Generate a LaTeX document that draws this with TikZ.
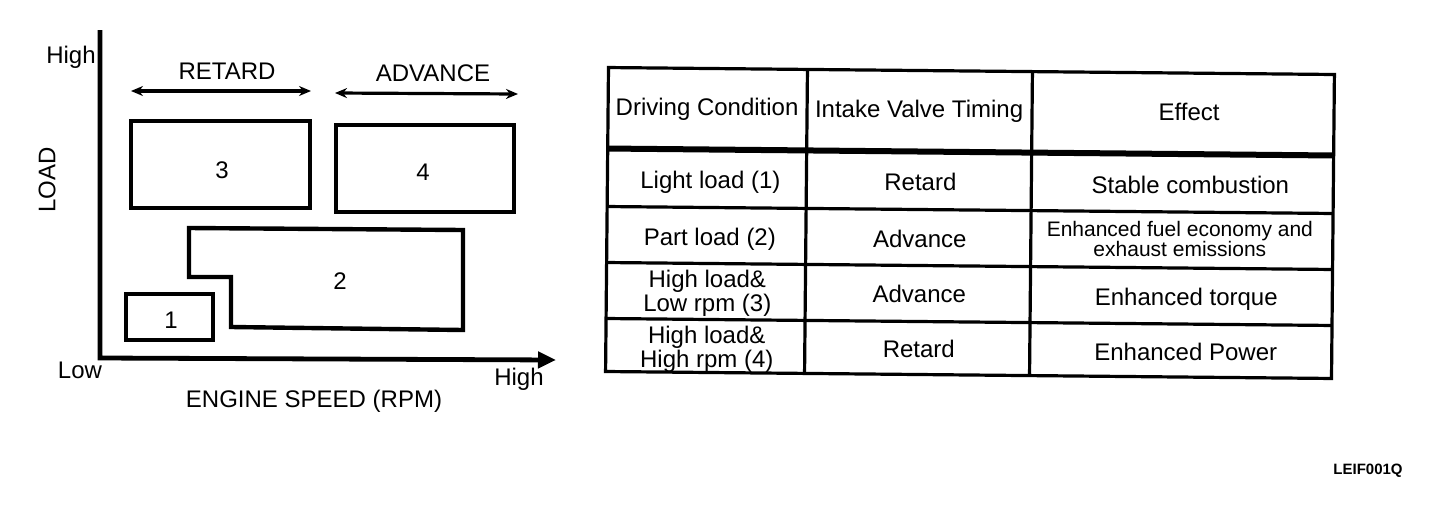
\documentclass[tikz,border=0pt]{standalone}
\usepackage{fontspec}
\setmainfont{Liberation Sans}
\usetikzlibrary{arrows.meta}
\tikzset{
  vvt diagram/.style={
    x=0.5pt, y=-0.5pt, line join=miter,
    every node/.style={font=\fontsize{12}{12}\selectfont,
      text=black, inner sep=0pt, outer sep=0pt}
  },
  vvt axis/.style={line width=2.4pt},
  vvt zone/.style={line width=2.2pt},
  vvt span/.style={line width=1.6pt,
    {Stealth[length=6pt,width=5pt]}-{Stealth[length=6pt,width=5pt]}},
  vvt rule/.style={line width=1.6pt},
  vvt cell/.style={text height=8.6pt, text depth=2.4pt},
  vvt pair/.style={align=center, font=\fontsize{12}{9.5}\selectfont},
  vvt small/.style={align=center, font=\fontsize{10.5}{10}\selectfont}
}

\begin{document}
\begin{tikzpicture}[vvt diagram]
    \useasboundingbox (0,0) rectangle (1440,504);
    % load / engine speed map
    \coordinate (loadTop) at (100,30);
    \coordinate (origin) at (100,358);
    \coordinate (speedEnd) at (556,360);
    \draw[vvt axis,-{Triangle[length=9pt,width=8pt]}]
      (loadTop) -- (origin) -- (speedEnd);
    \node (loadHigh) at (71,57) {High};
    \node (loadLow) at (80,370) {Low};
    \node (speedHigh) at (519,379) {High};
    \node[rotate=90] (loadLabel) at (47,180) {LOAD};
    \node (speedLabel) at (314,401) {ENGINE SPEED (RPM)};
    \node (retard) at (227,71) {RETARD};
    \node (advance) at (433,73) {ADVANCE};
    \coordinate (retardL) at (131,91);
    \coordinate (retardR) at (311,91);
    \coordinate (advanceL) at (335,93);
    \coordinate (advanceR) at (518,94);
    \draw[vvt span] (retardL) -- (retardR);
    \draw[vvt span] (advanceL) -- (advanceR);
    \draw[vvt zone] (131,121) rectangle (310,208);
    \draw[vvt zone] (336,125) rectangle (514,212);
    \draw[vvt zone] (189,228) -- (463,230) -- (463,330) -- (231,327)
      -- (231,277) -- (189,277) -- cycle;
    \draw[vvt zone] (126,294) rectangle (213,340);
    \node (zone1) at (171,320) {1};
    \node (zone2) at (340,281) {2};
    \node (zone3) at (222,170) {3};
    \node (zone4) at (423,172) {4};
    % timing table, scanned slightly askew
    \begin{scope}[rotate around={-0.55:(970,222)}]
      \draw[vvt rule] (607,71) rectangle (1333,375);
      \draw[line width=3pt] (607,152) -- (1333,152);
      \foreach \y in {210,266,322}
        \draw[vvt rule] (607,\y) -- (1333,\y);
      \draw[vvt rule] (806,71) -- (806,375);
      \draw[vvt rule] (1031,71) -- (1031,375);
      \node[vvt cell] (condHead) at (706,112) {Driving Condition};
      \node[vvt cell] (timingHead) at (918,112) {Intake Valve Timing};
      \node[vvt cell] (effectHead) at (1188,112) {Effect};
      \node[vvt cell] (cond1) at (710,185) {Light load (1)};
      \node[vvt cell] (timing1) at (920,185) {Retard};
      \node[vvt cell] (effect1) at (1190,185) {Stable combustion};
      \node[vvt cell] (cond2) at (710,242) {Part load (2)};
      \node[vvt cell] (timing2) at (920,242) {Advance};
      \node[vvt small] (effect2) at (1180,237)
        {Enhanced fuel economy and\\exhaust emissions};
      \node[vvt pair] (cond3) at (708,296) {High load\&\\Low rpm (3)};
      \node[vvt cell] (timing3) at (920,297) {Advance};
      \node[vvt cell] (effect3) at (1187,297) {Enhanced torque};
      \node[vvt pair] (cond4) at (708,352) {High load\&\\High rpm (4)};
      \node[vvt cell] (timing4) at (920,352) {Retard};
      \node[vvt cell] (effect4) at (1187,352) {Enhanced Power};
    \end{scope}
    \node[font=\bfseries\fontsize{7.5}{7.5}\selectfont] (figCode)
      at (1368,471) {LEIF001Q};
\end{tikzpicture}
\end{document}
